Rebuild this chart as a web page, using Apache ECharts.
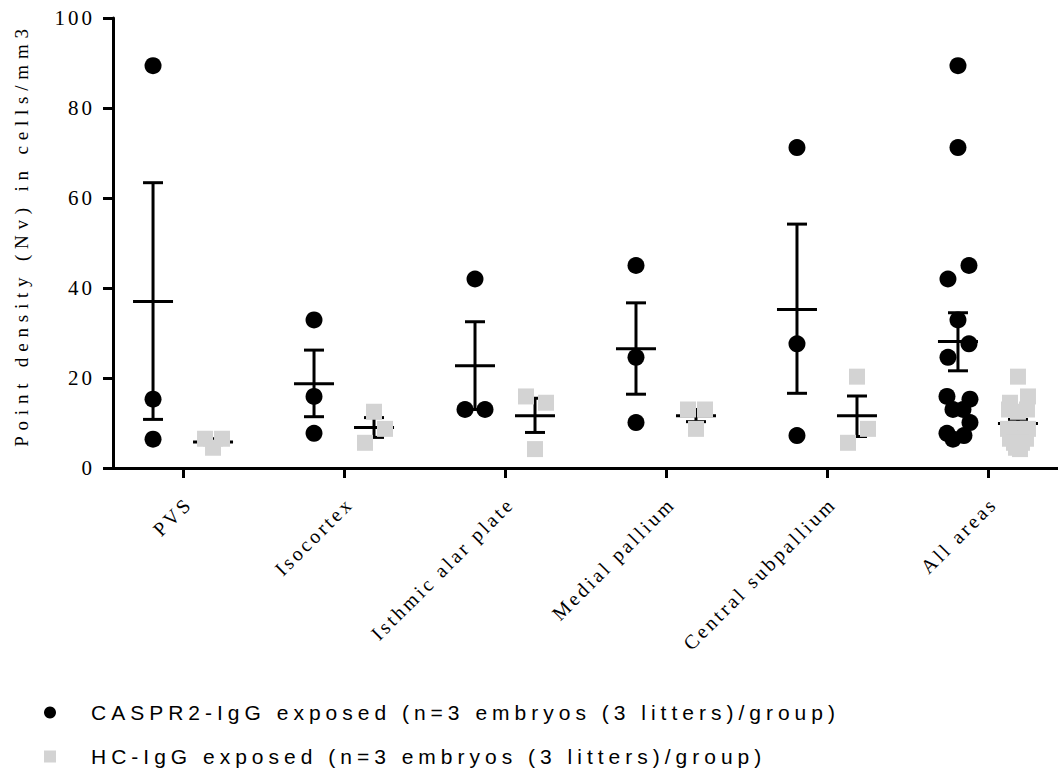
<!DOCTYPE html>
<html lang="en">
<head>
  <meta charset="UTF-8">
  <title>Point density</title>
  <style>
    html, body { margin: 0; padding: 0; background: #fff; }
    #main { width: 1058px; height: 770px; }
    /* the reference uses widely spaced text everywhere */
    #main text[style*="21px"] { letter-spacing: 3px; }
    #main text[style*="20px"] { letter-spacing: 3px; }
    #main text[style*="19px"] { letter-spacing: 5.8px; }
    #main text[style*="Liberation Sans"] { letter-spacing: 5px; }
  </style>
</head>
<body>
<div id="main"></div>
<script src="https://cdn.jsdelivr.net/npm/echarts@6.0.0/dist/echarts.min.js"></script>
<script type="text/javascript">
  const categories = ['PVS', 'Isocortex', 'Isthmic alar plate', 'Medial pallium', 'Central subpallium', 'All areas']
  const yTicks = [0, 20, 40, 60, 80, 100]

  // individual points per area
  const caspr2Points = [
    [89.4, 15.3, 6.4],
    [32.9, 15.9, 7.7],
    [42.0, 13.0, 13.0],
    [45.0, 24.6, 10.1],
    [71.2, 27.6, 7.2],
    [89.4, 71.2, 45.0, 42.0, 32.9, 27.6, 24.6, 15.9, 15.3, 13.0, 13.0, 10.1, 7.7, 7.2, 6.4]
  ]
  const hcPoints = [
    [6.5, 6.5, 4.5],
    [12.5, 8.7, 5.6],
    [15.9, 14.5, 4.2],
    [13.0, 13.0, 8.7],
    [20.3, 8.7, 5.6],
    [20.3, 15.9, 14.5, 13.0, 13.0, 12.5, 8.7, 8.7, 8.7, 6.5, 6.5, 5.6, 5.6, 4.5, 4.2]
  ]

  // mean and SEM bars
  const caspr2Mean = [37.0, 18.7, 22.7, 26.5, 35.2, 28.1]
  const caspr2Low = [10.8, 11.4, 13.0, 16.4, 16.6, 21.6]
  const caspr2High = [63.4, 26.2, 32.5, 36.7, 54.2, 34.5]
  const hcMean = [5.8, 9.0, 11.6, 11.6, 11.6, 9.9]
  const hcLow = [5.2, 6.8, 7.9, 10.3, 7.0, 8.9]
  const hcHigh = [6.5, 11.2, 15.5, 13.0, 16.0, 10.8]

  const caspr2Name = 'CASPR2-IgG exposed (n=3 embryos (3 litters)/group)'
  const hcName = 'HC-IgG exposed (n=3 embryos (3 litters)/group)'

  // layout: horizontal pixel shift of each group and scatter spread of the dots
  const groupShift = 30
  const caspr2Jitter = [[0, 0, 0], [0, 0, 0], [0, -10, 10], [0, 0, 0], [0, 0, 0],
    [0, 0, 11, -10, 0, 11, -10, -11, 12, -5, 5, 12, -11, 6, -5]]
  const hcJitter = [[-8, 9, 0], [0, 11, -9], [-9, 11, 0], [-8, 9, 0], [0, 11, -9],
    [0, 10, -8, -9, 9, 0, -10, 0, 10, -8, 8, -4, 4, -2, 2]]

  const scatterData = (points, jitter, shift) => {
    const out = []
    points.forEach((group, g) => {
      group.forEach((v, k) => {
        out.push({value: [g, v], symbolOffset: [shift + jitter[g][k], 0]})
      })
    })
    return out
  }

  const barData = (mean, low, high) => mean.map((m, i) => [i, m, low[i], high[i]])

  const errorBar = (shift) => (params, api) => {
    const x = api.value(0)
    const mid = api.coord([x, api.value(1)])
    const lo = api.coord([x, api.value(2)])
    const hi = api.coord([x, api.value(3)])
    const cx = mid[0] + shift
    const style = {stroke: '#000', lineWidth: 3, fill: null}
    return {
      type: 'group',
      children: [
        {type: 'line', shape: {x1: cx, y1: hi[1], x2: cx, y2: lo[1]}, style},
        {type: 'line', shape: {x1: cx - 10, y1: hi[1], x2: cx + 10, y2: hi[1]}, style},
        {type: 'line', shape: {x1: cx - 10, y1: lo[1], x2: cx + 10, y2: lo[1]}, style},
        {type: 'line', shape: {x1: cx - 20, y1: mid[1], x2: cx + 20, y2: mid[1]}, style}
      ]
    }
  }

  const legendBase = {
    left: 44,
    padding: 0,
    itemWidth: 12,
    itemHeight: 12,
    selectedMode: false,
    textStyle: {fontFamily: 'Liberation Sans', fontSize: 21, color: '#000', padding: [0, 0, 0, 30]}
  }

  const Chart = echarts.init(document.getElementById('main'), null, {renderer: 'svg'})

  const option = {
    animation: false,
    grid: {left: 113, top: 18, right: 0, bottom: 302, outerBoundsMode: 'none'},
    legend: [
      Object.assign({top: 702, data: [{name: caspr2Name, icon: 'circle'}]}, legendBase),
      Object.assign({top: 746, data: [{name: hcName, icon: 'rect'}]}, legendBase)
    ],
    xAxis: {
      type: 'value',
      min: -0.435,
      max: 5.435,
      splitLine: {show: false},
      axisLine: {show: true, lineStyle: {color: '#000', width: 3}},
      axisTick: {show: true, customValues: [0, 1, 2, 3, 4, 5], length: 10, lineStyle: {color: '#000', width: 3}},
      axisLabel: {
        customValues: [0, 1, 2, 3, 4, 5],
        formatter: (v) => categories[Math.round(v)],
        rotate: 45,
        margin: 38,
        padding: [0, -8, 0, 0],
        fontFamily: 'Liberation Serif',
        fontSize: 20,
        color: '#000'
      }
    },
    yAxis: {
      type: 'value',
      min: yTicks[0],
      max: yTicks[yTicks.length - 1],
      interval: yTicks[1] - yTicks[0],
      name: 'Point density (Nv) in cells/mm3',
      nameLocation: 'middle',
      nameGap: 82,
      nameTextStyle: {fontFamily: 'Liberation Serif', fontSize: 19, color: '#000', padding: [0, 0, 0, 16]},
      splitLine: {show: false},
      axisLine: {show: true, onZero: false, lineStyle: {color: '#000', width: 3}},
      axisTick: {show: true, length: 10, lineStyle: {color: '#000', width: 3}},
      axisLabel: {margin: 18, fontFamily: 'Liberation Serif', fontSize: 21, color: '#000'}
    },
    series: [
      {
        type: 'custom',
        renderItem: errorBar(-groupShift),
        data: barData(caspr2Mean, caspr2Low, caspr2High),
        z: 1,
        silent: true
      },
      {
        type: 'custom',
        renderItem: errorBar(groupShift),
        data: barData(hcMean, hcLow, hcHigh),
        z: 1,
        silent: true
      },
      {
        name: caspr2Name,
        type: 'scatter',
        symbol: 'circle',
        symbolSize: 17,
        itemStyle: {color: '#000', opacity: 1},
        data: scatterData(caspr2Points, caspr2Jitter, -groupShift),
        z: 3,
        silent: true
      },
      {
        name: hcName,
        type: 'scatter',
        symbol: 'rect',
        symbolSize: 16,
        itemStyle: {color: '#d3d3d3', opacity: 1},
        data: scatterData(hcPoints, hcJitter, groupShift),
        z: 3,
        silent: true
      }
    ]
  }

  Chart.setOption(option)
</script>
</body>
</html>
